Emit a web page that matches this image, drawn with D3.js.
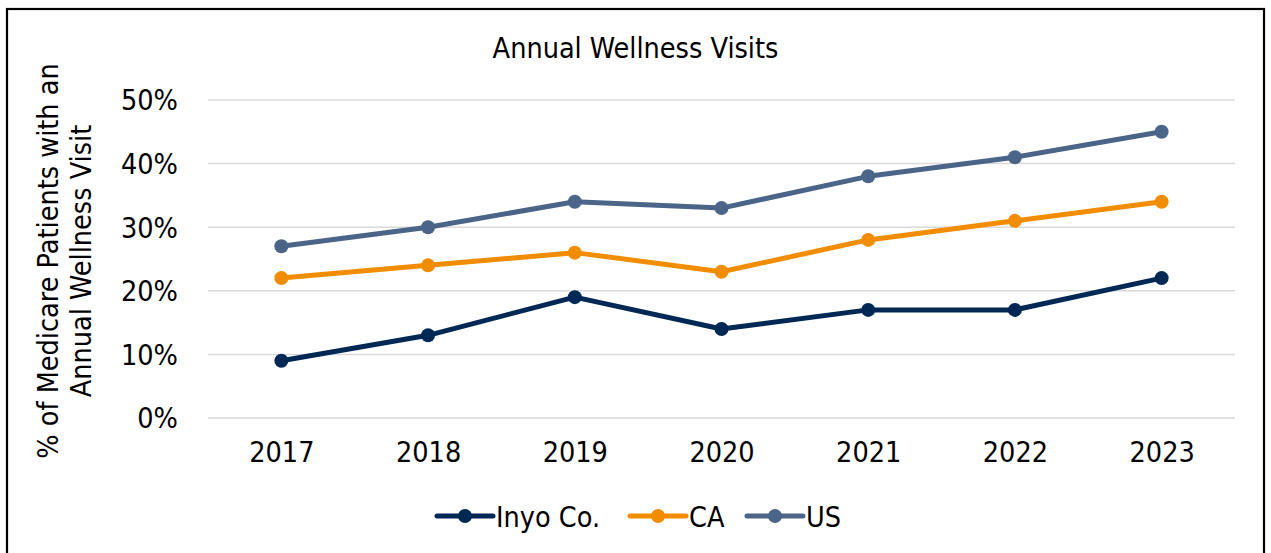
<!DOCTYPE html>
<html>
<head>
<meta charset="utf-8">
<script src="https://cdn.jsdelivr.net/npm/d3@7"></script>
<style>
  html, body { margin: 0; padding: 0; background: #fff; }
  svg text { font-family: "DejaVu Sans Condensed", "DejaVu Sans", sans-serif; font-stretch: condensed; fill: #000; }
</style>
</head>
<body>
<svg id="chart" width="1271" height="553"></svg>
<script>
// chart data
const years = ['2017', '2018', '2019', '2020', '2021', '2022', '2023'];
const inyo = [9, 13, 19, 14, 17, 17, 22];
const ca = [22, 24, 26, 23, 28, 31, 34];
const us = [27, 30, 34, 33, 38, 41, 45];
const yTicks = [0, 10, 20, 30, 40, 50];

const series = [
  { name: 'Inyo Co.', values: inyo, color: '#002855' },
  { name: 'CA', values: ca, color: '#F28C00' },
  { name: 'US', values: us, color: '#4A6587' },
];

const svg = d3.select('#chart');
const plot = { left: 208, right: 1235, top: 100, bottom: 418 };

// outer frame
svg.append('rect')
  .attr('x', 7).attr('y', 9)
  .attr('width', 1257).attr('height', 560)
  .attr('fill', 'none')
  .attr('stroke', '#000')
  .attr('stroke-width', 2.2);

const x = d3.scalePoint()
  .domain(years)
  .range([plot.left, plot.right])
  .padding(0.5);

const y = d3.scaleLinear()
  .domain([0, 50])
  .range([plot.bottom, plot.top]);

// gridlines
svg.append('g')
  .selectAll('line')
  .data(yTicks)
  .join('line')
  .attr('x1', plot.left).attr('x2', plot.right)
  .attr('y1', d => y(d)).attr('y2', d => y(d))
  .attr('stroke', '#d9d9d9')
  .attr('stroke-width', 1.5);

// y axis labels
const yAxis = svg.append('g')
  .attr('transform', `translate(${plot.left},0)`)
  .call(d3.axisLeft(y).tickValues(yTicks).tickFormat(d => d + '%').tickSize(0).tickPadding(30));
yAxis.select('.domain').remove();
yAxis.selectAll('text')
  .style('font-size', '28.5px')
  .attr('dy', '0.35em');

// x axis labels
const xAxis = svg.append('g')
  .attr('transform', `translate(0,${plot.bottom})`)
  .call(d3.axisBottom(x).tickSize(0).tickPadding(24));
xAxis.select('.domain').remove();
xAxis.selectAll('text').style('font-size', '28.5px');

// title
svg.append('text')
  .attr('x', (plot.left + plot.right) / 2 - 86)
  .attr('y', 58)
  .attr('text-anchor', 'middle')
  .style('font-size', '28.5px')
  .text('Annual Wellness Visits');

// y axis title
const yTitle = svg.append('text')
  .attr('transform', `translate(0,${(plot.top + plot.bottom) / 2 + 2}) rotate(-90)`)
  .attr('text-anchor', 'middle')
  .style('font-size', '28.5px');
yTitle.append('tspan').attr('x', 0).attr('y', 58).text('% of Medicare Patients with an');
yTitle.append('tspan').attr('x', 0).attr('y', 91).text('Annual Wellness Visit');

// lines and markers
const line = d3.line()
  .x((d, i) => x(years[i]))
  .y(d => y(d));

series.forEach(s => {
  const g = svg.append('g');
  g.append('path')
    .datum(s.values)
    .attr('d', line)
    .attr('fill', 'none')
    .attr('stroke', s.color)
    .attr('stroke-width', 5)
    .attr('stroke-linejoin', 'round');
  g.selectAll('circle')
    .data(s.values)
    .join('circle')
    .attr('cx', (d, i) => x(years[i]))
    .attr('cy', d => y(d))
    .attr('r', 7)
    .attr('fill', s.color);
});

// legend
const legendX = [437, 630, 747];
const legend = svg.append('g');
series.forEach((s, i) => {
  const g = legend.append('g').attr('transform', `translate(${legendX[i]},516)`);
  g.append('line')
    .attr('x1', 0).attr('x2', 56)
    .attr('stroke', s.color)
    .attr('stroke-width', 5)
    .attr('stroke-linecap', 'round');
  g.append('circle').attr('cx', 28).attr('r', 7).attr('fill', s.color);
  g.append('text')
    .attr('x', 59).attr('y', 11)
    .style('font-size', '28.5px')
    .text(s.name);
});
</script>
</body>
</html>
